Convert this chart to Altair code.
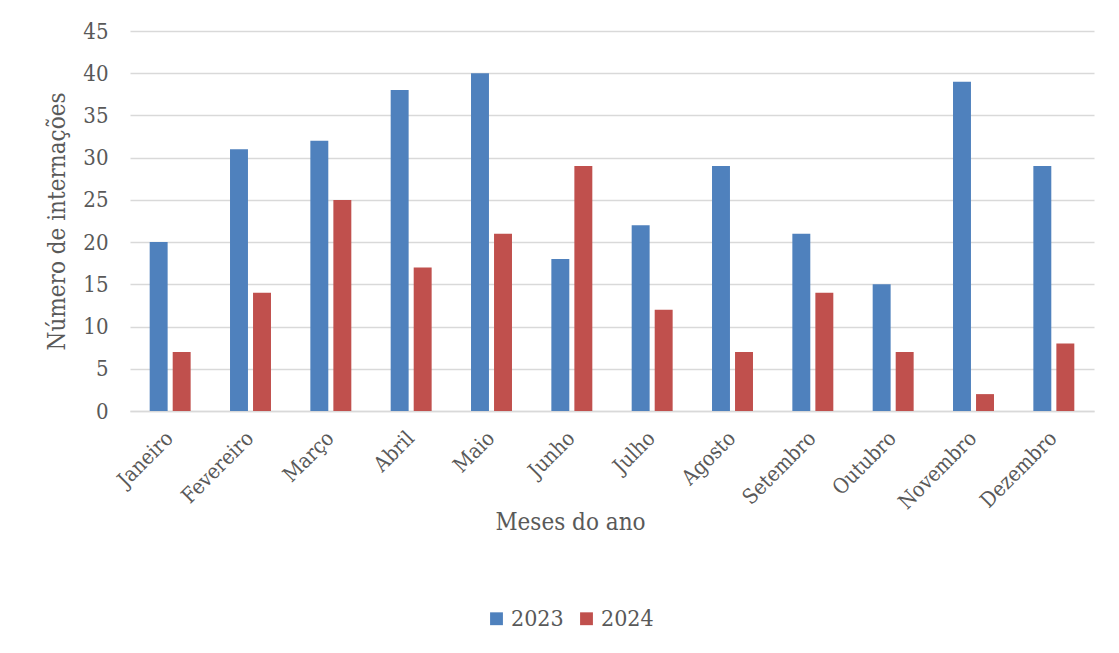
import altair as alt
import pandas as pd

months = ["Janeiro", "Fevereiro", "Março", "Abril", "Maio", "Junho",
          "Julho", "Agosto", "Setembro", "Outubro", "Novembro", "Dezembro"]
v2023 = [20, 31, 32, 38, 40, 18, 22, 29, 21, 15, 39, 29]
v2024 = [7, 14, 25, 17, 21, 29, 12, 7, 14, 7, 2, 8]
years = ["2023", "2024"]
colors = ["#4F81BD", "#C0504D"]

rows = []
for m, a, b in zip(months, v2023, v2024):
    rows.append({"mes": m, "ano": "2023", "valor": a})
    rows.append({"mes": m, "ano": "2024", "valor": b})
df = pd.DataFrame(rows)

FONT = "DejaVu Serif Condensed, DejaVu Serif"
TXT = "#595959"

chart = alt.Chart(df).mark_bar().encode(
    x=alt.X("mes:N", sort=months,
            scale=alt.Scale(paddingInner=0.49, paddingOuter=0.245),
            axis=alt.Axis(title="Meses do ano", labelAngle=-45, labelAlign="right",
                          labelBaseline="middle", labelPadding=24,
                          labelFontSize=21, titleFontSize=24,
                          titleX=440, titleY=118, titleBaseline="alphabetic",
                          domainColor="#D9D9D9", domainWidth=1.5, ticks=False,
                          grid=False, labelLimit=300)),
    xOffset=alt.XOffset("ano:N", scale=alt.Scale(paddingInner=0.22)),
    y=alt.Y("valor:Q", scale=alt.Scale(domain=[0, 45]),
            axis=alt.Axis(title="Número de internações", values=list(range(0, 50, 5)),
                          labelFontSize=22, titleFontSize=24, labelPadding=22,
                          titleX=-73, titleY=190, titleBaseline="middle",
                          domain=False, ticks=False, gridColor="#D9D9D9",
                          gridWidth=1.5)),
    color=alt.Color("ano:N", scale=alt.Scale(domain=years, range=colors),
                    legend=alt.Legend(title=None, orient="none", direction="horizontal",
                                      legendX=355, legendY=576, symbolType="square",
                                      symbolSize=165, symbolStrokeWidth=0,
                                      labelFontSize=23, columnPadding=11,
                                      labelOffset=3)),
).properties(
    width=964, height=380,
    padding={"left": 122, "top": 23, "right": 17, "bottom": 228},
    autosize=alt.AutoSizeParams(type="none"),
).configure_axis(
    labelFont=FONT, titleFont=FONT, labelColor=TXT, titleColor=TXT,
    titleFontWeight="normal",
).configure_legend(
    labelFont=FONT, labelColor=TXT,
).configure_view(stroke=None)

chart.save("out.html", embed_options={"renderer": "svg", "actions": False})
